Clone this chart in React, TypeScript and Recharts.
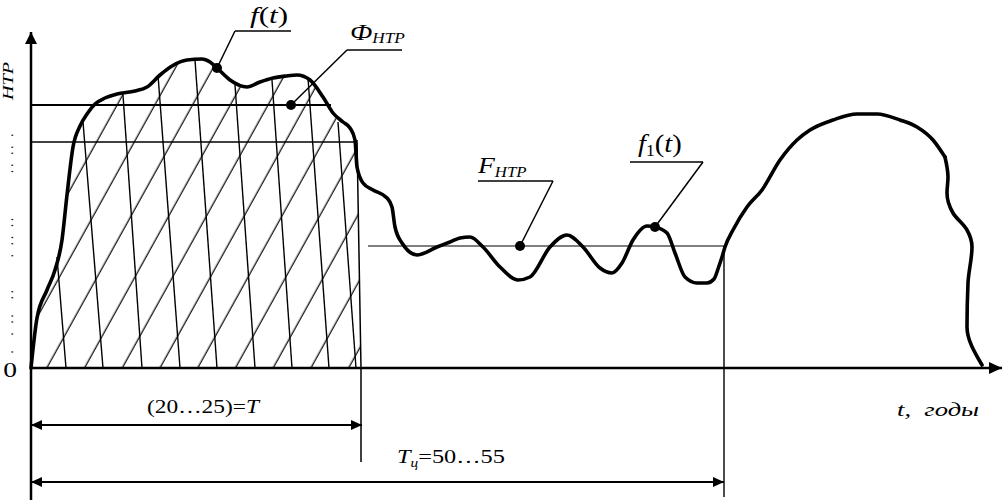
import React from 'react';
import { ComposedChart, Line, Area, XAxis, YAxis, ReferenceLine, ReferenceDot, Scatter } from 'recharts';

// f(t) – whole curve (t, value)
const CURVE_T = [0, 6, 16, 24, 31, 36, 42, 49, 56, 64, 74, 86, 104, 116, 129, 141, 156, 171, 179, 186, 199, 216, 229, 242, 255, 266, 279, 292, 302, 312, 319, 324, 326, 332, 342, 356, 361, 364, 371, 386, 406, 419, 429, 439, 452, 469, 487, 499, 519, 536, 552, 569, 581, 591, 602, 616, 624, 636, 644, 654, 666, 676, 683, 688, 691, 694, 702, 716, 731, 749, 766, 779, 802, 826, 846, 869, 886, 902, 914, 917, 916, 922, 936, 941, 937, 936, 951];
const CURVE_V = [0, 50, 78, 98, 128, 173, 221, 242, 254, 264, 270, 274, 277, 281, 293, 302, 308, 309, 306, 300, 288, 281, 286, 290, 292, 293, 288, 271, 255, 246, 240, 228, 201, 185, 178, 170, 161, 141, 125, 113, 121, 126, 130, 131, 121, 101, 88, 91, 121, 133, 121, 100, 95, 105, 128, 142, 141, 135, 115, 91, 85, 85, 89, 102, 111, 121, 138, 161, 178, 208, 228, 238, 248, 254, 254, 248, 241, 228, 211, 191, 175, 155, 138, 121, 85, 41, 3];
const SPLIT = 78; // index where the curve starts to fold back in t

// hatched region (Ф_НТР) right edge
const HATCH_EDGE_T = [326, 330];
const HATCH_EDGE_V = [226, 0];

// near-vertical hatch strokes (top point on curve -> bottom on axis)
const STROKE_TOP_T = [26, 52, 92, 127, 164, 204, 241, 277, 307];
const STROKE_TOP_V = [111, 246, 273, 293, 308, 283, 288, 290, 246];
const STROKE_BOT_T = [35, 72, 111, 149, 186, 224, 261, 298, 325];

// levels
const LEVEL_PHI = 263;   // upper horizontal
const LEVEL_MID = 226;   // second horizontal
const LEVEL_F = 122;     // F_НТР level
const T_END = 330;       // (20…25)=T
const T_CYCLE = 693;     // T_ц=50…55

// marked points
const MARK_T = [186, 260, 489, 624];
const MARK_V = [300, 263, 122, 141];

// text
const ZERO_LABEL = '0';
const Y_LABEL = 'НТР';
const X_LABEL = 't,  годы';
const DIM1_LABEL = ['(20…25)=', 'T'];
const DIM2_LABEL = ['T', 'ц', '=50…55'];

const FONT = "'Liberation Serif', 'Times New Roman', serif";

type Part = { text: string; size: number; italic?: boolean; dy?: number };

const textShape = (parts: Part[], sx: number, anchor: 'start' | 'middle' | 'end' = 'start', rot = 0) => (p: any) => (
  <g transform={`translate(${p.cx},${p.cy}) rotate(${rot}) scale(${sx},1)`}>
    <text x={0} y={0} textAnchor={anchor} fontFamily={FONT} fill="#000" style={{ whiteSpace: 'pre' }}>
      {parts.map((pt, i) => (
        <tspan key={i} fontSize={pt.size} fontStyle={pt.italic ? 'italic' : 'normal'} dy={pt.dy ?? 0}>
          {pt.text}
        </tspan>
      ))}
    </text>
  </g>
);

const arrowShape = (w: number, startHead: boolean, endHead: boolean, len = 11, half = 5) => (p: any) => {
  const { x1, y1, x2, y2 } = p;
  const dx = x2 - x1, dy = y2 - y1;
  const L = Math.hypot(dx, dy) || 1;
  const ux = dx / L, uy = dy / L;
  const nx = -uy, ny = ux;
  const head = (tx: number, ty: number, dirx: number, diry: number) => {
    const bx = tx - dirx * len, by = ty - diry * len;
    return `${tx},${ty} ${bx + nx * half},${by + ny * half} ${bx - nx * half},${by - ny * half}`;
  };
  return (
    <g>
      <line x1={x1} y1={y1} x2={x2} y2={y2} stroke="#000" strokeWidth={w} />
      {startHead && <polygon points={head(x1, y1, -ux, -uy)} fill="#000" />}
      {endHead && <polygon points={head(x2, y2, ux, uy)} fill="#000" />}
    </g>
  );
};

const seg = (t1: number, v1: number, t2: number, v2: number, w: number, key: string) => (
  <ReferenceLine
    key={key}
    segment={[{ x: t1, y: v1 }, { x: t2, y: v2 }]}
    stroke="#000"
    strokeWidth={w}
    ifOverflow="visible"
  />
);

export default function App() {
  const pts = CURVE_T.map((t, i) => ({ x: t, y: CURVE_V[i] }));
  const curveA = pts.slice(0, SPLIT + 1);
  const curveB = pts.slice(SPLIT);
  const hatch = [
    ...pts.slice(0, 32),
    ...HATCH_EDGE_T.map((t, i) => ({ x: t, y: HATCH_EDGE_V[i] })),
  ];
  const marks = MARK_T.map((t, i) => ({ x: t, y: MARK_V[i] }));

  const dotString = '.  . ..  ..     . .. ..       .. .. .';

  return (
    <div style={{ position: 'absolute', left: 0, top: 0, width: 1004, height: 501, background: '#fff' }}>
      <ComposedChart width={1004} height={501} margin={{ top: 0, right: 0, bottom: 0, left: 0 }}>
        <defs>
          <pattern id="hatch" patternUnits="userSpaceOnUse" width={33} height={33} patternTransform="rotate(29)">
            <line x1={21.3} y1={-2} x2={21.3} y2={35} stroke="#000" strokeWidth={1.2} />
          </pattern>
        </defs>
        <XAxis dataKey="x" type="number" domain={[-31, 973]} hide allowDataOverflow />
        <YAxis dataKey="y" type="number" domain={[-133, 368]} hide allowDataOverflow />

        <Area data={hatch} dataKey="y" type="monotone" fill="url(#hatch)" fillOpacity={1} stroke="none" baseValue={0} dot={false} activeDot={false} isAnimationActive={false} />

        {STROKE_TOP_T.map((t, i) => seg(t, STROKE_TOP_V[i], STROKE_BOT_T[i], 0, 1.4, 's' + i))}

        {/* hatched region right edge and T marker */}
        {seg(326, 228, 330, 0, 1.5, 'edge')}
        {seg(330, 0, 330, -94, 1.5, 'tline')}
        {/* horizontal levels */}
        {seg(0, LEVEL_PHI, 300, LEVEL_PHI, 2, 'lphi')}
        {seg(0, LEVEL_MID, 326, LEVEL_MID, 1.3, 'lmid')}
        {seg(337, LEVEL_F, T_CYCLE, LEVEL_F, 1.2, 'lf')}
        {seg(T_CYCLE, LEVEL_F, T_CYCLE, -129, 1.4, 'tc')}

        {/* leaders */}
        {seg(204, 337, 260, 337, 1.5, 'u1')}
        {seg(204, 337, 186, 300, 1.5, 'l1')}
        {seg(316, 318, 371, 318, 1.5, 'u2')}
        {seg(316, 318, 260, 263, 1.5, 'l2')}
        {seg(447, 187, 522, 187, 1.5, 'u3')}
        {seg(522, 187, 489, 122, 1.5, 'l3')}
        {seg(599, 206, 672, 206, 1.5, 'u4')}
        {seg(672, 206, 624, 141, 1.5, 'l4')}

        {/* axes */}
        <ReferenceLine segment={[{ x: 0, y: -132 }, { x: 0, y: 336 }]} ifOverflow="visible" shape={arrowShape(2.5, false, true, 12, 6)} />
        <ReferenceLine segment={[{ x: 0, y: 0 }, { x: 971, y: 0 }]} ifOverflow="visible" shape={arrowShape(2.5, false, true, 13, 6)} />
        {/* dimension arrows */}
        <ReferenceLine segment={[{ x: 0, y: -57 }, { x: T_END + 1, y: -57 }]} ifOverflow="visible" shape={arrowShape(2, true, true, 11, 5)} />
        <ReferenceLine segment={[{ x: 0, y: -114 }, { x: T_CYCLE, y: -114 }]} ifOverflow="visible" shape={arrowShape(2, true, true, 11, 5)} />

        <Line data={curveA} dataKey="y" type="monotone" stroke="#000" strokeWidth={3.6} strokeLinecap="round" strokeLinejoin="round" dot={false} activeDot={false} isAnimationActive={false} />
        <Line data={curveB} dataKey="y" type="monotoneY" stroke="#000" strokeWidth={3.6} strokeLinecap="round" strokeLinejoin="round" dot={false} activeDot={false} isAnimationActive={false} />

        <Scatter data={marks} isAnimationActive={false} shape={(p: any) => <circle cx={p.cx} cy={p.cy} r={5} fill="#000" />} />

        {/* labels */}
        <ReferenceDot x={219} y={345} r={0} ifOverflow="visible"
          shape={textShape([{ text: 'f', size: 24, italic: true }, { text: '(', size: 24 }, { text: 't', size: 24, italic: true }, { text: ')', size: 24 }], 1.3)} />
        <ReferenceDot x={319} y={328} r={0} ifOverflow="visible"
          shape={textShape([{ text: 'Ф', size: 24, italic: true }, { text: 'НТР', size: 15, italic: true, dy: 3 }], 1.15)} />
        <ReferenceDot x={447} y={195} r={0} ifOverflow="visible"
          shape={textShape([{ text: 'F', size: 23, italic: true }, { text: 'НТР', size: 14, italic: true, dy: 4 }], 1.2)} />
        <ReferenceDot x={607} y={216} r={0} ifOverflow="visible"
          shape={textShape([{ text: 'f', size: 26, italic: true }, { text: '1', size: 16, dy: 4 }, { text: '(', size: 26, dy: -4 }, { text: 't', size: 26, italic: true }, { text: ')', size: 26 }], 1.1)} />
        <ReferenceDot x={-21} y={-9} r={0} ifOverflow="visible"
          shape={textShape([{ text: ZERO_LABEL, size: 22 }], 1.25, 'middle')} />
        <ReferenceDot x={116} y={-45} r={0} ifOverflow="visible"
          shape={textShape([{ text: DIM1_LABEL[0], size: 18 }, { text: DIM1_LABEL[1], size: 18, italic: true }], 1.3)} />
        <ReferenceDot x={366} y={-95} r={0} ifOverflow="visible"
          shape={textShape([{ text: DIM2_LABEL[0], size: 19, italic: true }, { text: DIM2_LABEL[1], size: 12, italic: true, dy: 4 }, { text: DIM2_LABEL[2], size: 19, dy: -4 }], 1.28)} />
        <ReferenceDot x={866} y={-48} r={0} ifOverflow="visible"
          shape={textShape([{ text: X_LABEL, size: 19, italic: true }], 1.4)} />
        <ReferenceDot x={-18} y={268} r={0} ifOverflow="visible"
          shape={textShape([{ text: Y_LABEL, size: 15, italic: true }], 1.35, 'start', -90)} />
        <ReferenceDot x={-18} y={13} r={0} ifOverflow="visible"
          shape={(p: any) => (
            <text transform={`translate(${p.cx},${p.cy}) rotate(-90)`} fontFamily="DejaVu Sans Mono" fontSize={10} fill="#000" style={{ whiteSpace: 'pre' }}>
              {dotString}
            </text>
          )} />
      </ComposedChart>
    </div>
  );
}
